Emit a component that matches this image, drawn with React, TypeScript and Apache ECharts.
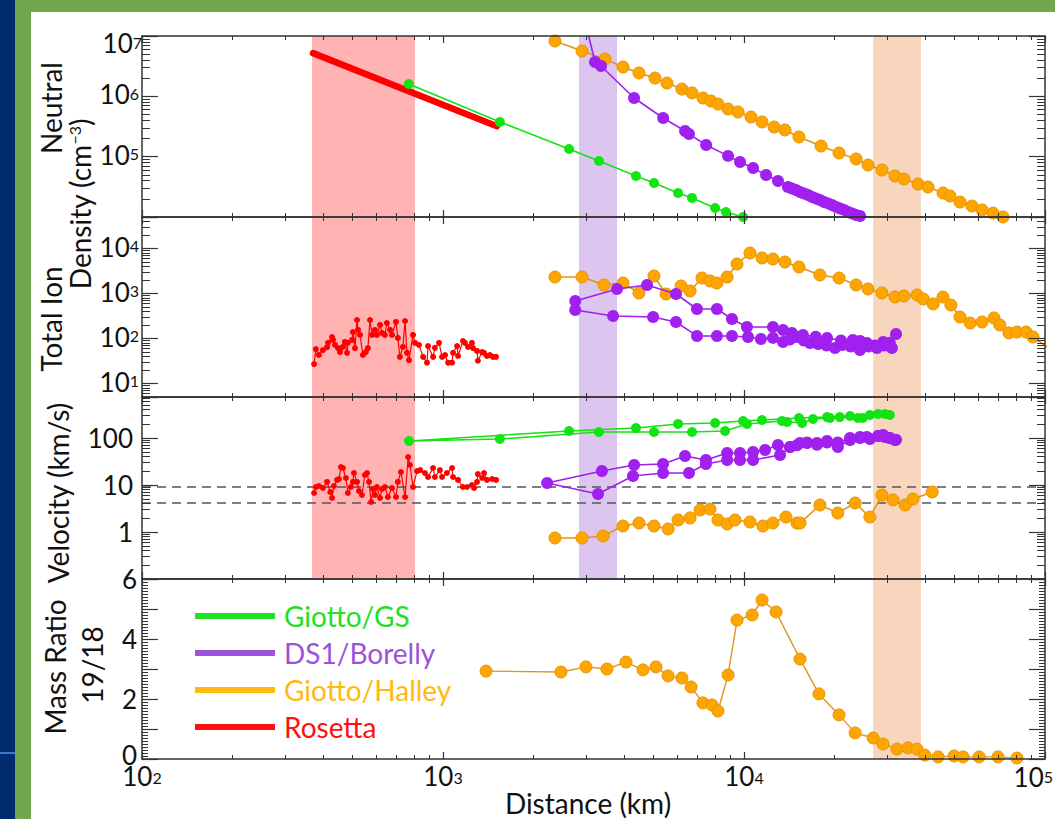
import React, { useEffect, useRef } from 'react';
import * as echarts from 'echarts';

// ---------------- data (distance km, value) ----------------
const rosettaNeutral = [[370, 5.2e6], [1510, 3.2e5]];
const gsNeutral = [[770, 1.6e6], [1545, 3.76e5], [2623, 1.34e5], [3298, 8.48e4], [4377, 4.78e4], [5024, 3.66e4], [6039, 2.5e4], [6719, 2.07e4], [8017, 1.41e4], [8715, 1.21e4], [9930, 1.0e4], [11600, 7.6e3]];
const halleyNeutral = [[2355, 8.26e6], [2897, 5.64e6], [3453, 4.16e6], [3963, 3.06e6], [4478, 2.44e6], [5060, 2.01e6], [5546, 1.66e6], [6220, 1.32e6], [6719, 1.14e6], [7305, 9.38e5], [7766, 8.37e5], [8195, 7.46e5], [8852, 6.17e5], [9557, 5.5e5], [10550, 4.54e5], [11480, 3.76e5], [12590, 3.1e5], [13680, 2.77e5], [15230, 2.12e5], [18030, 1.5e5], [20690, 1.15e5], [23570, 9.15e4], [25830, 7.28e4], [28730, 6.01e4], [31740, 4.78e4], [34000, 4.26e4], [37870, 3.52e4], [40860, 3.14e4], [45840, 2.5e4], [48340, 2.23e4], [52200, 1.77e4], [57200, 1.52e4], [61800, 1.31e4], [67200, 1.16e4], [72500, 1.0e4], [80000, 8.4e3]];
const ds1Neutral = [[2980, 1.6e7], [3199, 3.71e6], [3350, 3.18e6], [4313, 9.38e5], [5388, 4.37e5], [6371, 2.66e5], [6565, 2.37e5], [7485, 1.56e5], [8852, 1.03e5], [9702, 8.15e4], [10720, 6.48e4], [11840, 4.97e4], [12970, 3.95e4], [14000, 3.14e4], [14430, 2.96e4], [14880, 2.8e4], [15350, 2.6e4], [15820, 2.45e4], [16320, 2.31e4], [16830, 2.14e4], [17350, 2.03e4], [17890, 1.91e4], [18450, 1.77e4], [19020, 1.68e4], [19610, 1.58e4], [20230, 1.47e4], [20850, 1.38e4], [21500, 1.31e4], [22180, 1.21e4], [22860, 1.14e4], [23570, 1.08e4], [24300, 1.04e4], [25060, 9.6e3], [26600, 8.6e3]];

const rosettaIon = [[373, 27], [378, 58], [387, 43], [399, 55], [412, 64], [415, 80], [428, 108], [431, 93], [438, 72], [448, 61], [455, 50], [465, 65], [472, 84], [480, 48], [483, 80], [499, 93], [502, 139], [510, 61], [518, 258], [522, 155], [530, 120], [542, 43], [554, 50], [563, 61], [572, 258], [581, 120], [594, 155], [603, 120], [618, 200], [627, 133], [641, 120], [651, 221], [667, 155], [677, 120], [698, 233], [708, 103], [719, 39], [736, 65], [748, 245], [759, 48], [771, 33], [795, 120], [807, 80], [832, 72], [859, 39], [885, 29], [892, 68], [927, 39], [940, 62], [970, 80], [993, 39], [1016, 43], [1040, 29], [1072, 29], [1080, 48], [1114, 68], [1122, 41], [1165, 88], [1183, 80], [1211, 65], [1248, 80], [1258, 61], [1297, 53], [1306, 32], [1349, 50], [1369, 48], [1400, 41], [1433, 43], [1466, 39], [1500, 39]];
const halleyIon = [[2355, 2326], [2897, 2326], [3428, 1545], [3963, 1711], [4478, 1026], [5024, 2449], [5508, 975], [6180, 1468], [6620, 1137], [7250, 2208], [7710, 1896], [8130, 1711], [8790, 2326], [9480, 4525], [10470, 7943], [11480, 6150], [12480, 5843], [13680, 5012], [15230, 3882], [17870, 2576], [20690, 2208], [23570, 1545], [25830, 1259], [28730, 1026], [31740, 836], [34000, 880], [37600, 926], [39400, 755], [42500, 585], [45800, 836], [48700, 555], [52200, 300], [56400, 221], [61800, 233], [67700, 286], [70800, 200], [75900, 133], [80700, 139], [86500, 139], [91200, 108], [104000, 58]];
const ds1Ion = [[32000, 126], [30500, 80], [29000, 83.6], [27200, 70], [25600, 79.4], [24300, 88], [23000, 92.6], [21000, 90], [18880, 103], [17300, 110], [15700, 120], [14430, 133], [13480, 155], [12480, 180], [10230, 180], [9120, 271], [8130, 453], [6980, 453], [5943, 975], [4764, 1545], [3785, 1259], [2750, 681], [2750, 430], [3673, 316], [4989, 300], [5943, 233], [6980, 114], [8130, 114], [9120, 114], [10310, 108], [11380, 97.5], [12480, 103], [13480, 83.6], [14200, 95], [15000, 108], [15800, 90], [16560, 79.4], [17620, 75.5], [18800, 70], [20050, 61.5], [21170, 71.7], [22600, 66], [24270, 55.5], [25900, 66], [27650, 61.5], [29300, 70], [31000, 61.5]];

const rosettaVel = [[373, 6.75], [378, 9.06], [387, 9.52], [399, 8.63], [412, 11.6], [422, 7.09], [428, 5.29], [434, 9.52], [445, 12.8], [451, 13.4], [458, 24.1], [465, 23], [476, 14.1], [483, 6.75], [494, 9.06], [502, 11.6], [506, 18], [518, 11.6], [526, 7.45], [538, 6.12], [550, 16.3], [559, 18], [568, 11.6], [577, 4.35], [585, 8.22], [594, 6.12], [603, 9.06], [618, 5.29], [627, 8.22], [641, 9.06], [656, 5.55], [677, 8.63], [698, 5.55], [708, 11.6], [725, 18.9], [748, 5.55], [766, 39.4], [777, 26.6], [795, 9.06], [820, 19.8], [840, 20.8], [871, 18], [892, 14.8], [927, 23], [940, 14.8], [977, 20.8], [993, 14.8], [1030, 18], [1072, 23], [1080, 14.8], [1122, 12.8], [1165, 9.06], [1202, 9.06], [1248, 10], [1268, 8.63], [1297, 11.6], [1306, 17.1], [1349, 14.1], [1369, 18], [1400, 12.8], [1456, 13.4], [1500, 12.8]];
const gsVel = [[29400, 324], [26200, 308], [22500, 294], [18880, 279], [15230, 266], [11480, 241], [9930, 230], [8017, 208], [6039, 199], [4377, 163], [2623, 141], [771, 86.3], [1545, 95], [3298, 134], [5024, 134], [6719, 134], [8650, 141], [10230, 199], [13370, 230], [13900, 219], [15600, 208], [16950, 254], [19300, 266], [20800, 279], [23900, 266], [24800, 266], [27900, 324], [30500, 308]];
const ds1Vel = [[31700, 90.6], [30500, 100], [29000, 116], [27900, 110], [25600, 105], [24300, 100], [22500, 100], [20500, 80], [18880, 86.3], [17480, 78.2], [16200, 80], [15350, 78.2], [14220, 64.3], [12970, 71], [11750, 55.5], [10720, 50.3], [9700, 47.9], [8790, 47.9], [7475, 34], [6370, 41.4], [5383, 28], [4315, 26.6], [3373, 19.8], [2218, 11], [3273, 6.43], [4277, 15.5], [5383, 18], [6565, 18], [7475, 28], [8790, 34], [9700, 34], [10720, 34], [13180, 43.5], [14220, 64.3], [15000, 70], [16200, 78.2], [17480, 72], [18880, 80], [20500, 64.3], [22500, 90], [24300, 105], [26200, 95], [27900, 110], [29400, 105], [30500, 100], [32000, 92]];
const halleyVel = [[2355, 0.745], [2897, 0.745], [3404, 0.822], [3963, 1.34], [4478, 1.55], [5024, 1.34], [5597, 1.16], [6039, 1.8], [6620, 1.99], [7148, 2.94], [7710, 3.08], [8195, 1.8], [8790, 1.48], [9340, 1.8], [10470, 1.63], [11560, 1.34], [12480, 1.55], [13790, 2.08], [15000, 1.55], [15350, 1.55], [17870, 3.75], [20500, 2.53], [23400, 4.14], [26200, 2.08], [28730, 6.12], [31260, 4.8], [34300, 3.75], [36400, 5.04], [42200, 7.09]];

const halleyMassRatio = [[1390, 2.93], [2466, 2.9], [2985, 3.07], [3505, 3.0], [4056, 3.23], [4617, 2.97], [5100, 3.07], [5597, 2.77], [6220, 2.7], [6670, 2.4], [7305, 1.87], [7830, 1.8], [8195, 1.6], [8852, 2.8], [9480, 4.63], [10640, 4.8], [11480, 5.3], [12780, 4.9], [15350, 3.33], [17740, 2.17], [20690, 1.47], [23400, 0.87], [26850, 0.7], [28970, 0.5], [32230, 0.33], [35070, 0.37], [37580, 0.33], [39900, 0.13], [44130, 0.07], [49900, 0.1], [53450, 0.07], [60400, 0.07], [69800, 0.07], [80700, 0.03]];

const rosettaBand = [367, 807];
const ds1Band = [2830, 3785];
const halleyBand = [26850, 38700];
const velocityRefLines = [9, 4.2];

const X_RANGE = [100, 100000];
const NEUTRAL_RANGE = [1e4, 1e7];
const ION_RANGE = [Math.pow(10, 0.7), Math.pow(10, 4.7)];
const VEL_RANGE = [0.1, 745];
const MASS_RANGE = [0, 6];

const legendNames = ['Giotto/GS', 'DS1/Borelly', 'Giotto/Halley', 'Rosetta'];

// ---------------- styles ----------------
const GREEN = '#12e312';
const PURPLE = '#a020f0';
const ORANGE = '#ffa500';
const ORANGE_LINE = '#e0961c';
const RED = '#ff0000';
const FONT = 'Lato';
const INK = '#111';
const AXIS = '#333';
const TICK_FS = 26;
const TITLE_FS = 28;

const GRID_TOPS = [36, 217, 397, 579];
const GRID_HEIGHTS = [181, 180, 182, 180];

const richLabel = {
  b: { fontFamily: FONT, fontSize: TICK_FS, color: INK, lineHeight: 22, verticalAlign: 'bottom' },
  s: { fontFamily: FONT, fontSize: 16, color: INK, lineHeight: 16, verticalAlign: 'top' },
};
const richGraphic = {
  b: { fontFamily: FONT, fontSize: TICK_FS, fill: INK, color: INK, lineHeight: 22, verticalAlign: 'bottom' },
  s: { fontFamily: FONT, fontSize: 16, fill: INK, color: INK, lineHeight: 16, verticalAlign: 'top' },
};

function expOf(v: number) {
  const l = Math.log10(v);
  const e = Math.round(l);
  return Math.abs(l - e) < 0.01 ? e : null;
}

function App() {
  const ref = useRef<HTMLDivElement>(null);
  useEffect(() => {
    if (!ref.current) return;
    const chart = echarts.init(ref.current, null, { renderer: 'svg' });

    const grid = GRID_TOPS.map((t, i) => ({ left: 142, right: 10, top: t, height: GRID_HEIGHTS[i], show: false, outerBoundsMode: 'none', containLabel: false }));

    const xAxis: any[] = [];
    for (let i = 0; i < 4; i++) {
      for (const pos of ['bottom', 'top']) {
        xAxis.push({
          type: 'log', logBase: 10, gridIndex: i, min: X_RANGE[0], max: X_RANGE[1], position: pos, z: 5,
          axisLine: { show: true, onZero: false, lineStyle: { color: AXIS, width: 1.5 } },
          axisTick: { show: true, inside: true, length: 7, lineStyle: { color: AXIS, width: 1.2 } },
          minorTick: { show: true, splitNumber: 9, length: 4, lineStyle: { color: AXIS, width: 1 } },
          splitLine: { show: false }, minorSplitLine: { show: false },
          axisLabel: (i === 3 && pos === 'bottom') ? {
            show: true, margin: 10, rich: { ...richLabel, b: { ...richLabel.b, lineHeight: 20 } },
            formatter: (v: number) => { const e = expOf(v); return (e === null || e === 5) ? '' : `{b|10}{s|${e}}`; },
          } : { show: false },
        });
      }
    }

    const yAxis: any[] = [];
    const ranges = [NEUTRAL_RANGE, ION_RANGE, VEL_RANGE, MASS_RANGE];
    for (let i = 0; i < 4; i++) {
      for (const pos of ['left', 'right']) {
        const isLog = i < 3;
        const base: any = {
          type: isLog ? 'log' : 'value', gridIndex: i, min: ranges[i][0], max: ranges[i][1], position: pos, z: 5,
          axisLine: { show: true, onZero: false, lineStyle: { color: AXIS, width: 1.5 } },
          axisTick: { show: true, inside: true, length: 16, lineStyle: { color: AXIS, width: 1.2 } },
          minorTick: { show: true, splitNumber: isLog ? 9 : 10, length: isLog ? 8 : 6, lineStyle: { color: AXIS, width: 1 } },
          splitLine: { show: false }, minorSplitLine: { show: false },
        };
        if (isLog) base.logBase = 10; else base.interval = 1;
        if (pos === 'right') {
          base.axisLabel = { show: false };
        } else if (i === 0) {
          base.axisLabel = { show: true, margin: 3, rich: richLabel, formatter: (v: number) => { const e = expOf(v); if (e === null || e === 4 || e === 7) return ''; return `{b|10}{s|${e}}`; } };
        } else if (i === 1) {
          base.axisLabel = { show: true, margin: 3, rich: richLabel, formatter: (v: number) => { const e = expOf(v); if (e === null || e < 1 || e > 4) return ''; return `{b|10}{s|${e}}`; } };
        } else if (i === 2) {
          base.axisLabel = { show: true, margin: 9, fontFamily: FONT, fontSize: TICK_FS, lineHeight: 20, color: INK, formatter: (v: number) => { const e = expOf(v); if (e === null || e < 0) return ''; return String(Math.round(v)); } };
        } else {
          base.axisLabel = {
            show: true, margin: 5, fontFamily: FONT, fontSize: TICK_FS, lineHeight: 18, color: INK,
            rich: { z: { fontFamily: FONT, fontSize: TICK_FS, color: INK, lineHeight: 18, padding: [0, 0, 8, 0] } },
            formatter: (v: number) => { const r = Math.round(v); if (r === 0) return '{z|0}'; return r % 2 === 0 ? String(r) : ''; },
          };
        }
        yAxis.push(base);
      }
    }

    const ax = (i: number) => ({ xAxisIndex: 2 * i, yAxisIndex: 2 * i });
    const band = (r: number[], color: string) => [{ xAxis: r[0], itemStyle: { color, opacity: 1, borderWidth: 0 } }, { xAxis: r[1] }];

    const series: any[] = [];
    const bandsPerGrid = [
      [band(rosettaBand, '#ffb3b3'), band(ds1Band, '#dcc5ee'), band(halleyBand, '#f8d6bd')],
      [band(rosettaBand, '#ffb3b3'), band(ds1Band, '#dcc5ee'), band(halleyBand, '#f8d6bd')],
      [band(rosettaBand, '#ffb3b3'), band(ds1Band, '#dcc5ee'), band(halleyBand, '#f8d6bd')],
      [band(halleyBand, '#f8d6bd')],
    ];
    bandsPerGrid.forEach((b, i) => {
      const s: any = { type: 'line', data: [], ...ax(i), silent: true, z: 0, markArea: { silent: true, z: 0, data: b } };
      if (i === 2) {
        s.markLine = { silent: true, z: 1, symbol: ['none', 'none'], label: { show: false }, lineStyle: { type: [9, 6], color: '#555', width: 1.6 }, data: velocityRefLines.map(v => ({ yAxis: v })) };
      }
      series.push(s);
    });

    const orange = (i: number, data: any, lw = 1.6) => ({ type: 'line', name: 'Giotto/Halley', data, ...ax(i), z: 2, symbol: 'circle', symbolSize: 12, lineStyle: { color: ORANGE_LINE, width: lw }, itemStyle: { color: ORANGE, borderColor: '#e89400', borderWidth: 1 } });
    const purple = (i: number, data: any) => ({ type: 'line', name: 'DS1/Borelly', data, ...ax(i), z: 3, symbol: 'circle', symbolSize: 12, lineStyle: { color: PURPLE, width: 1.6 }, itemStyle: { color: PURPLE } });
    const green = (i: number, data: any) => ({ type: 'line', name: 'Giotto/GS', data, ...ax(i), z: 4, symbol: 'circle', symbolSize: 10, lineStyle: { color: GREEN, width: 1.6 }, itemStyle: { color: GREEN } });
    const redPts = (i: number, data: any) => ({ type: 'line', name: 'Rosetta', data, ...ax(i), z: 4, symbol: 'circle', symbolSize: 6, lineStyle: { color: RED, width: 1.2 }, itemStyle: { color: RED } });

    series.push(orange(0, halleyNeutral), purple(0, ds1Neutral), green(0, gsNeutral));
    series.push({ type: 'line', name: 'Rosetta', data: rosettaNeutral, ...ax(0), z: 4, symbol: 'none', lineStyle: { color: RED, width: 6.5, cap: 'round' }, itemStyle: { color: RED } });
    series.push(orange(1, halleyIon), purple(1, ds1Ion), redPts(1, rosettaIon));
    series.push(orange(2, halleyVel), purple(2, ds1Vel), green(2, gsVel), redPts(2, rosettaVel));
    series.push(orange(3, halleyMassRatio, 1.4));

    const title = (text: string, x: number, y: number) => ({
      type: 'text', x, y, rotation: Math.PI / 2, z: 10,
      style: { text, fontFamily: FONT, fontSize: TITLE_FS, fill: INK, align: 'center', verticalAlign: 'middle' },
    });

    const legendColors = ['#22e022', '#9c52da', '#ffba10', '#ff1010'];

    chart.setOption({
      animation: false,
      backgroundColor: '#fff',
      grid,
      xAxis,
      yAxis,
      series,
      legend: {
        orient: 'vertical', left: 190, top: 597, itemWidth: 80, itemHeight: 6, itemGap: 9, icon: 'rect',
        selectedMode: false,
        textStyle: { fontFamily: FONT, fontSize: 28, lineHeight: 28, padding: [0, 0, 0, 4] },
        data: legendNames.map((n, k) => ({ name: n, itemStyle: { color: legendColors[k], borderWidth: 0 }, textStyle: { color: legendColors[k] } })),
      },
      graphic: [
        { type: 'rect', z: -10, shape: { x: 0, y: 0, width: 15, height: 819 }, style: { fill: '#012b6f' } },
        { type: 'rect', z: -10, shape: { x: 15, y: 0, width: 16, height: 819 }, style: { fill: '#71a84f' } },
        { type: 'rect', z: -10, shape: { x: 15, y: 0, width: 1040, height: 12 }, style: { fill: '#71a84f' } },
        { type: 'rect', z: -10, shape: { x: 0, y: 752, width: 15, height: 2 }, style: { fill: '#3a78c8' } },
        { type: 'text', x: 142, y: 45, z: 10, style: { text: '{b|10}{s|7}', align: 'right', verticalAlign: 'middle', rich: richGraphic } },
        { type: 'text', x: 1053, y: 779, z: 10, style: { text: '{b|10}{s|5}', align: 'right', verticalAlign: 'middle', rich: richGraphic } },
        title('Neutral', 51, 108),
        title('Total Ion', 51, 319),
        {
          type: 'text', x: 80, y: 204, rotation: Math.PI / 2, z: 10,
          style: {
            text: '{b|Density (cm}{s|−3}{b|)}', align: 'center', verticalAlign: 'middle',
            rich: {
              b: { fontFamily: FONT, fontSize: TITLE_FS, fill: INK, color: INK, lineHeight: 28, verticalAlign: 'bottom' },
              s: { fontFamily: FONT, fontSize: 16, fill: INK, color: INK, lineHeight: 16, verticalAlign: 'top' },
            },
          },
        },
        title('Velocity (km/s)', 58, 493),
        title('Mass Ratio', 55, 667),
        title('19/18', 92, 665),
        { type: 'text', x: 588, y: 803, z: 10, style: { text: 'Distance (km)', fontFamily: FONT, fontSize: TITLE_FS, fill: INK, align: 'center', verticalAlign: 'middle' } },
      ],
    });
    return () => chart.dispose();
  }, []);
  return <div ref={ref} style={{ position: 'absolute', left: 0, top: 0, width: 1055, height: 819 }} />;
}

export default App;
